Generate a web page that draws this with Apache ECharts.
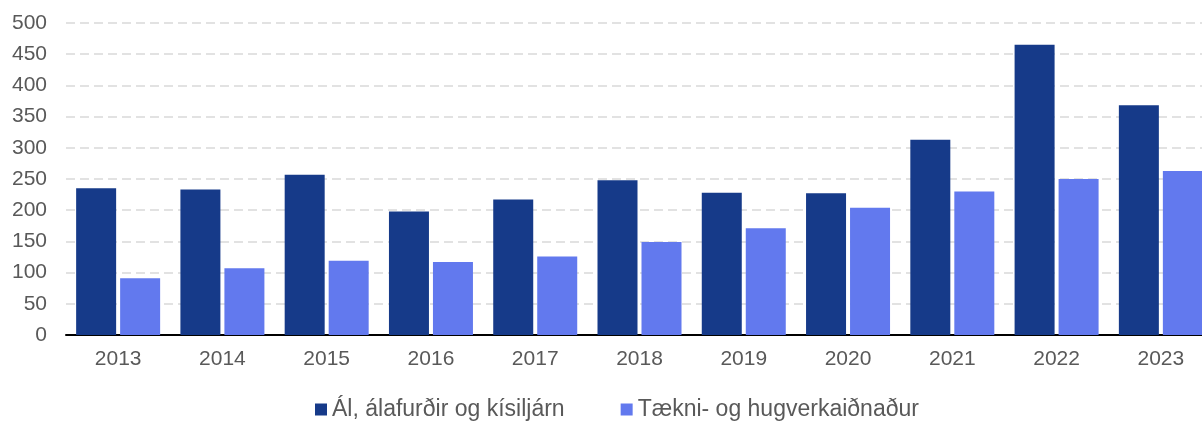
<!DOCTYPE html>
<html>
<head>
<meta charset="utf-8">
<script src="https://cdn.jsdelivr.net/npm/echarts@6/dist/echarts.min.js"></script>
<style>
  html, body { margin: 0; padding: 0; background: #fff; }
  #chart { width: 1202px; height: 421px; }
</style>
</head>
<body>
<div id="chart"></div>
<script>
const years = ['2013','2014','2015','2016','2017','2018','2019','2020','2021','2022','2023']
const seriesNames = ['Ál, álafurðir og kísiljárn', 'Tækni- og hugverkaiðnaður']
const alValues = [235, 233, 257, 198, 217, 248, 228, 227, 313, 465, 368]
const techValues = [91, 107, 119, 117, 126, 149, 171, 204, 230, 250, 263]

const chart = echarts.init(document.getElementById('chart'))

const option = {
    animation: false,
    textStyle: {
        fontFamily: 'Liberation Sans, Arial, sans-serif',
        color: '#595959'
    },
    legend: {
        data: seriesNames,
        top: 398,
        left: 315,
        padding: 0,
        icon: 'rect',
        itemWidth: 12,
        itemHeight: 12,
        itemGap: 56,
        textStyle: {
            fontSize: 23,
            color: '#595959'
        }
    },
    grid: {
        left: 66,
        top: 23,
        bottom: 86,
        width: 1147,
        outerBoundsMode: 'none',
        containLabel: false
    },
    xAxis: {
        type: 'category',
        data: years,
        axisTick: { show: false },
        axisLine: {
            lineStyle: { color: '#000', width: 2 }
        },
        axisLabel: {
            fontSize: 21,
            color: '#595959',
            margin: 14
        }
    },
    yAxis: {
        type: 'value',
        min: 0,
        max: 500,
        interval: 50,
        axisLine: { show: false },
        axisTick: { show: false },
        axisLabel: {
            fontSize: 21,
            color: '#595959',
            margin: 19
        },
        splitLine: {
            lineStyle: {
                color: '#d9d9d9',
                width: 1.5,
                type: [9, 5]
            }
        }
    },
    series: [
        {
            name: seriesNames[0],
            type: 'bar',
            barWidth: 40,
            barGap: '10%',
            itemStyle: { color: '#163a89' },
            data: alValues
        },
        {
            name: seriesNames[1],
            type: 'bar',
            barWidth: 40,
            barGap: '10%',
            itemStyle: { color: '#6279ee' },
            data: techValues
        }
    ]
}

chart.setOption(option)
</script>
</body>
</html>
